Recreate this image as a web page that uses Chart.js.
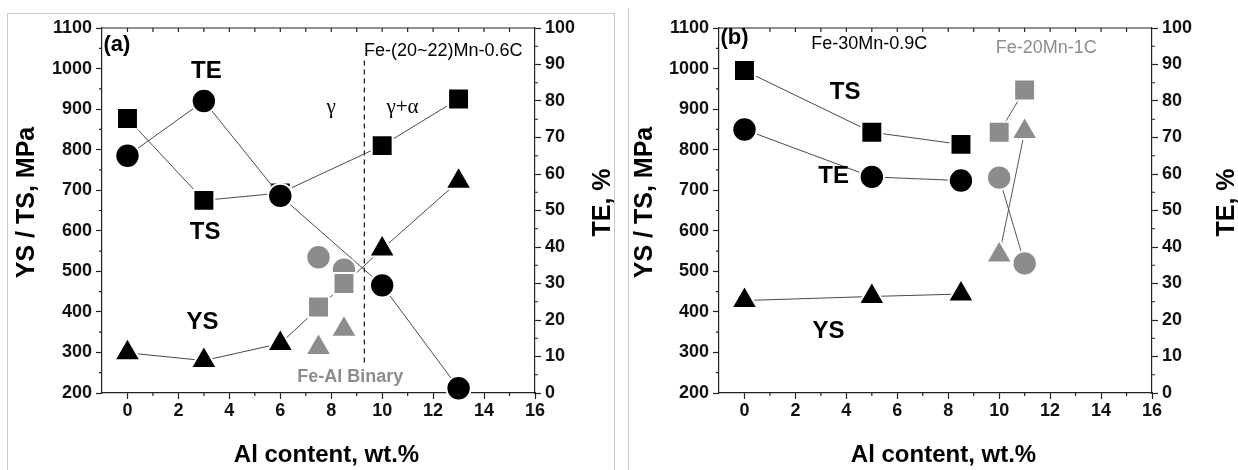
<!DOCTYPE html>
<html>
<head>
<meta charset="utf-8">
<script src="https://cdn.jsdelivr.net/npm/chart.js@4.4.1/dist/chart.umd.min.js"></script>
<style>
  body { margin: 0; background: #fff; width: 1238px; height: 470px; overflow: hidden; position: relative; }
  canvas { position: absolute; top: 0; }
  .frame { position: absolute; border: 0 solid #c9c9c9; }
</style>
</head>
<body>
<div class="frame" style="left:7px;top:13px;width:606px;height:470px;border-width:1px 1px 0 1px"></div>
<div class="frame" style="left:628px;top:8px;width:0;height:470px;border-left-width:1px"></div>
<canvas id="chartA" width="620" height="470" style="left:0"></canvas>
<canvas id="chartB" width="618" height="470" style="left:620px"></canvas>
<script>
// ---- panel (a): Fe-(20~22)Mn-0.6C ----
const alA = [0, 3, 6, 10, 13];
const tsA = [877, 675, 693, 810, 925];
const ysA = [299, 280, 322, 555, 722];
const teA = [65, 80, 54, 29.5, 1.3];
// Fe-Al binary (grey)
const alBin = [7.5, 8.5];
const tsBin = [412, 470];
const ysBin = [312, 357];
const teBin = [37.2, 33.8];
// dashed gamma / gamma+alpha boundary
const boundaryAl = [9.3, 9.3];
const boundaryMPa = [1020, 272];

// ---- panel (b): Fe-30Mn-0.9C and Fe-20Mn-1C ----
const alB = [0, 5, 8.5];
const tsB = [995, 843, 813];
const ysB = [428, 438, 444];
const teB = [72.2, 59.2, 58.2];
const al20 = [10, 11];
const ts20 = [843, 947];
const ys20 = [540, 845];
const te20 = [59, 35.5];

// ---- axes ----
const xTicks = [0, 2, 4, 6, 8, 10, 12, 14, 16];
const xMinor = [1, 3, 5, 7, 9, 11, 13, 15];
const xTop = [0, 1, 2, 3, 4, 5, 6, 7, 8, 9, 10, 11, 12, 13, 14, 15];
const mpaTicks = [200, 300, 400, 500, 600, 700, 800, 900, 1000, 1100];
const mpaMinor = [250, 350, 450, 550, 650, 750, 850, 950, 1050];
const teTicks = [0, 10, 20, 30, 40, 50, 60, 70, 80, 90, 100];
const teMinor = [5, 15, 25, 35, 45, 55, 65, 75, 85, 95];

const SANS = '"Liberation Sans", Arial, Helvetica, sans-serif';
const SERIF = '"Liberation Serif", "Times New Roman", serif';
const BLACK = '#000';
const GREY = '#8c8c8c';
const LINE = '#4a4a4a';
const AXIS = '#222';

const pts = (xs, ys) => xs.map((x, i) => ({x: x, y: ys[i]}));
const radius = {rect: 14.8, circle: 12.2, triangle: 15};

function series(xs, ys, shape, color, extra) {
  return Object.assign({
    data: pts(xs, ys),
    pointStyle: shape,
    pointRadius: radius[shape],
    pointHoverRadius: radius[shape],
    pointBackgroundColor: color,
    pointBorderColor: '#fff',
    pointBorderWidth: 2,
    borderColor: LINE,
    borderWidth: 1,
    showLine: true,
    clip: false,
    yAxisID: 'y'
  }, extra || {});
}

const decor = {
  id: 'decor',
  afterDraw(chart, args, o) {
    const {ctx, chartArea: a, scales: {x, y, y2}} = chart;
    ctx.save();
    ctx.strokeStyle = AXIS;
    ctx.lineWidth = 1.2;
    ctx.beginPath();
    ctx.moveTo(a.left, a.top); ctx.lineTo(a.right, a.top);
    xTop.forEach(v => { const p = x.getPixelForValue(v); ctx.moveTo(p, a.top); ctx.lineTo(p, a.top + 4); });
    xMinor.forEach(v => { const p = x.getPixelForValue(v); ctx.moveTo(p, a.bottom); ctx.lineTo(p, a.bottom + 3); });
    mpaMinor.forEach(v => { const p = y.getPixelForValue(v); ctx.moveTo(a.left, p); ctx.lineTo(a.left - 3, p); });
    teMinor.forEach(v => { const p = y2.getPixelForValue(v); ctx.moveTo(a.right, p); ctx.lineTo(a.right + 3, p); });
    ctx.stroke();

    ctx.textBaseline = 'middle';
    o.notes.forEach(n => {
      ctx.font = (n.bold ? 'bold ' : '') + n.size + 'px ' + (n.serif ? SERIF : SANS);
      ctx.fillStyle = n.color || BLACK;
      ctx.textAlign = n.align || 'center';
      ctx.fillText(n.text, x.getPixelForValue(n.x), y.getPixelForValue(n.y));
    });

    ctx.fillStyle = BLACK;
    ctx.textAlign = 'center';
    ctx.font = 'bold 25px ' + SANS;
    const midY = (a.top + a.bottom) / 2 - 8;
    ctx.save(); ctx.translate(o.leftX, midY); ctx.rotate(-Math.PI / 2); ctx.fillText('YS / TS, MPa', 0, 0); ctx.restore();
    ctx.save(); ctx.translate(o.rightX, midY); ctx.rotate(-Math.PI / 2); ctx.fillText('TE, %', 0, 0); ctx.restore();
    ctx.font = 'bold 24px ' + SANS;
    ctx.fillText('Al content, wt.%', (a.left + a.right) / 2 + 8, o.bottomY);
    ctx.restore();
  }
};

function makeChart(id, datasets, notes, box) {
  const tickFont = {family: SANS, size: 18, weight: 'bold'};
  const grid = {drawOnChartArea: false, tickLength: 6, tickColor: AXIS, tickWidth: 1.2};
  const border = {color: AXIS, width: 1.2};
  const plain = v => String(v);
  return new Chart(document.getElementById(id), {
    type: 'scatter',
    data: {datasets: datasets},
    options: {
      responsive: false,
      animation: false,
      events: [],
      layout: {padding: {top: 28, left: 0, right: 0, bottom: 0}},
      plugins: {legend: {display: false}, tooltip: {enabled: false},
        decor: {notes: notes, leftX: box.leftX, rightX: box.rightX, bottomY: 455}},
      scales: {
        x: {type: 'linear', min: -1, max: 16, position: 'bottom',
          afterBuildTicks: s => { s.ticks = xTicks.map(v => ({value: v})); },
          afterFit: s => { s.height = 77; },
          ticks: {font: tickFont, color: '#111', padding: 1, maxRotation: 0, callback: plain},
          grid: grid, border: border},
        y: {type: 'linear', min: 200, max: 1100, position: 'left',
          afterBuildTicks: s => { s.ticks = mpaTicks.map(v => ({value: v})); },
          afterFit: s => { s.width = box.left; },
          ticks: {font: tickFont, color: '#111', padding: 4, callback: plain},
          grid: grid, border: border},
        y2: {type: 'linear', min: 0, max: 100, position: 'right',
          afterBuildTicks: s => { s.ticks = teTicks.map(v => ({value: v})); },
          afterFit: s => { s.width = box.right; },
          ticks: {font: tickFont, color: '#111', padding: 4, callback: plain},
          grid: grid, border: border}
      }
    },
    plugins: [decor]
  });
}

makeChart('chartA', [
  series(alBin, tsBin, 'rect', GREY, {showLine: false}),
  series(alBin, teBin, 'circle', GREY, {showLine: false, yAxisID: 'y2'}),
  series(alBin, ysBin, 'triangle', GREY, {showLine: false}),
  series(alA, teA, 'circle', BLACK, {yAxisID: 'y2'}),
  series(alA, tsA, 'rect', BLACK),
  series(alA, ysA, 'triangle', BLACK),
  {data: pts(boundaryAl, boundaryMPa), showLine: true, pointRadius: 0, borderColor: '#111',
   borderWidth: 1.2, borderDash: [5, 4], yAxisID: 'y'}
], [
  {text: '(a)', x: -0.94, y: 1058, size: 22, bold: true, align: 'left'},
  {text: 'Fe-(20~22)Mn-0.6C', x: 12.4, y: 1043, size: 18},
  {text: 'TE', x: 3.1, y: 993, size: 24, bold: true},
  {text: '\u03b3', x: 8.0, y: 905, size: 21, serif: true},
  {text: '\u03b3+\u03b1', x: 10.8, y: 905, size: 21, serif: true},
  {text: 'TS', x: 3.05, y: 595, size: 24, bold: true},
  {text: 'YS', x: 2.95, y: 375, size: 24, bold: true},
  {text: 'Fe-Al Binary', x: 8.75, y: 240, size: 18, bold: true, color: GREY}
], {left: 102, right: 85, leftX: 27, rightX: 603});

makeChart('chartB', [
  series(al20, ts20, 'rect', GREY, {borderColor: '#555'}),
  series(al20, ys20, 'triangle', GREY, {borderColor: '#555'}),
  series(al20, te20, 'circle', GREY, {borderColor: '#555', yAxisID: 'y2'}),
  series(alB, teB, 'circle', BLACK, {yAxisID: 'y2'}),
  series(alB, tsB, 'rect', BLACK),
  series(alB, ysB, 'triangle', BLACK)
], [
  {text: '(b)', x: -0.94, y: 1076, size: 22, bold: true, align: 'left'},
  {text: 'Fe-30Mn-0.9C', x: 4.9, y: 1061, size: 18},
  {text: 'Fe-20Mn-1C', x: 11.85, y: 1050, size: 18, color: GREY},
  {text: 'TS', x: 3.95, y: 942, size: 24, bold: true},
  {text: 'TE', x: 3.5, y: 735, size: 24, bold: true},
  {text: 'YS', x: 3.3, y: 353, size: 24, bold: true}
], {left: 99, right: 86, leftX: 25, rightX: 607});
</script>
</body>
</html>
